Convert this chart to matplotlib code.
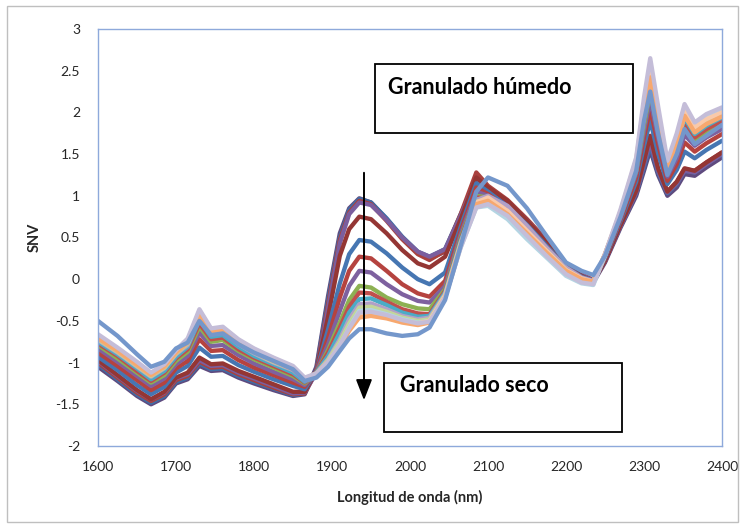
import matplotlib
matplotlib.use("Agg")
import matplotlib.pyplot as plt
from matplotlib.patches import Rectangle, FancyArrowPatch

plt.rcParams['font.family'] = ['Lato', 'DejaVu Sans']

wavelength = [1600, 1625, 1650, 1668, 1685, 1700, 1715, 1730, 1745, 1760, 1780, 1800, 1825, 1850, 1865,
              1880, 1895, 1910, 1922, 1935, 1950, 1970, 1990, 2010, 2025, 2045, 2065, 2085, 2100, 2125,
              2150, 2175, 2200, 2220, 2235, 2250, 2270, 2290, 2300, 2308, 2318, 2330, 2342, 2352, 2365,
              2380, 2400]

s01 = [-1.05,-1.22,-1.40,-1.50,-1.42,-1.25,-1.20,-1.04,-1.10,-1.09,-1.18,-1.25,-1.33,-1.40,-1.38,-1.05,-0.20,0.55,0.85,0.97,0.92,0.72,0.50,0.32,0.25,0.33,0.75,1.10,1.02,0.90,0.68,0.43,0.16,0.03,-0.04,0.20,0.62,1.00,1.30,1.55,1.25,1.00,1.10,1.26,1.24,1.34,1.46]
s02 = [-1.02,-1.20,-1.38,-1.48,-1.40,-1.23,-1.18,-1.01,-1.08,-1.07,-1.16,-1.23,-1.31,-1.39,-1.37,-1.08,-0.25,0.50,0.83,0.96,0.92,0.73,0.51,0.33,0.27,0.36,0.78,1.18,1.08,0.93,0.70,0.45,0.18,0.05,-0.02,0.22,0.64,1.03,1.34,1.60,1.28,1.03,1.14,1.30,1.28,1.38,1.50]
s03 = [-1.00,-1.18,-1.36,-1.46,-1.38,-1.21,-1.16,-0.99,-1.06,-1.05,-1.14,-1.21,-1.30,-1.38,-1.37,-1.10,-0.30,0.47,0.80,0.94,0.90,0.70,0.48,0.30,0.23,0.34,0.78,1.28,1.12,0.95,0.72,0.47,0.19,0.06,-0.01,0.22,0.65,1.05,1.40,1.68,1.32,1.05,1.16,1.32,1.30,1.40,1.52]
s04 = [-0.98,-1.16,-1.34,-1.44,-1.36,-1.19,-1.14,-0.97,-1.04,-1.03,-1.12,-1.19,-1.28,-1.37,-1.36,-1.12,-0.35,0.43,0.78,0.92,0.89,0.71,0.50,0.33,0.27,0.36,0.76,1.20,1.08,0.93,0.70,0.45,0.18,0.05,-0.02,0.22,0.64,1.04,1.38,1.65,1.30,1.04,1.15,1.30,1.28,1.38,1.50]
s05 = [-0.97,-1.15,-1.33,-1.44,-1.35,-1.18,-1.12,-0.94,-1.02,-1.01,-1.10,-1.17,-1.26,-1.35,-1.35,-1.10,-0.45,0.28,0.60,0.75,0.72,0.55,0.35,0.19,0.14,0.27,0.72,1.22,1.10,0.94,0.70,0.45,0.17,0.04,-0.03,0.22,0.65,1.06,1.42,1.72,1.33,1.05,1.17,1.33,1.30,1.40,1.52]
s06 = [-0.93,-1.09,-1.27,-1.38,-1.29,-1.12,-1.04,-0.82,-0.93,-0.92,-1.03,-1.11,-1.20,-1.28,-1.32,-1.10,-0.60,-0.05,0.30,0.47,0.45,0.31,0.14,0.00,-0.06,0.08,0.63,1.15,1.05,0.87,0.65,0.40,0.15,0.03,-0.02,0.25,0.70,1.17,1.60,1.90,1.51,1.14,1.31,1.53,1.45,1.55,1.66]
s07 = [-0.88,-1.04,-1.21,-1.33,-1.24,-1.07,-0.98,-0.72,-0.86,-0.85,-0.97,-1.06,-1.15,-1.24,-1.29,-1.10,-0.70,-0.22,0.10,0.27,0.25,0.10,-0.06,-0.17,-0.21,-0.02,0.58,1.10,1.02,0.85,0.62,0.38,0.14,0.02,-0.03,0.26,0.72,1.22,1.70,2.04,1.62,1.18,1.38,1.64,1.53,1.63,1.74]
s08 = [-0.83,-0.99,-1.16,-1.28,-1.19,-1.02,-0.92,-0.64,-0.80,-0.79,-0.91,-1.01,-1.11,-1.20,-1.27,-1.11,-0.78,-0.38,-0.08,0.10,0.08,-0.06,-0.18,-0.26,-0.28,-0.08,0.54,1.05,1.00,0.83,0.60,0.36,0.13,0.01,-0.03,0.27,0.74,1.27,1.78,2.15,1.70,1.23,1.45,1.73,1.60,1.70,1.80]
s09 = [-0.79,-0.95,-1.12,-1.24,-1.15,-0.98,-0.87,-0.57,-0.75,-0.73,-0.86,-0.96,-1.06,-1.16,-1.25,-1.12,-0.85,-0.52,-0.25,-0.08,-0.10,-0.22,-0.30,-0.35,-0.36,-0.12,0.50,1.00,0.98,0.81,0.58,0.35,0.12,0.01,-0.03,0.28,0.76,1.30,1.85,2.25,1.77,1.27,1.52,1.83,1.66,1.76,1.86]
s10 = [-0.77,-0.92,-1.10,-1.22,-1.12,-0.95,-0.84,-0.53,-0.72,-0.70,-0.84,-0.94,-1.04,-1.14,-1.24,-1.12,-0.88,-0.58,-0.33,-0.16,-0.17,-0.27,-0.36,-0.41,-0.42,-0.14,0.48,0.98,0.97,0.80,0.57,0.34,0.11,0.00,-0.03,0.29,0.77,1.33,1.90,2.30,1.82,1.29,1.56,1.88,1.70,1.80,1.90]
s11 = [-0.75,-0.90,-1.07,-1.20,-1.10,-0.93,-0.81,-0.49,-0.69,-0.67,-0.81,-0.92,-1.02,-1.12,-1.23,-1.12,-0.92,-0.64,-0.40,-0.24,-0.23,-0.31,-0.40,-0.45,-0.44,-0.16,0.46,0.96,0.96,0.79,0.56,0.33,0.11,0.00,-0.03,0.29,0.78,1.35,1.95,2.35,1.86,1.31,1.59,1.93,1.74,1.84,1.94]
s12 = [-0.73,-0.88,-1.05,-1.17,-1.07,-0.90,-0.79,-0.45,-0.65,-0.63,-0.78,-0.89,-1.00,-1.09,-1.21,-1.13,-0.96,-0.72,-0.48,-0.30,-0.29,-0.36,-0.44,-0.48,-0.46,-0.18,0.44,0.95,1.00,0.88,0.64,0.38,0.14,0.02,-0.02,0.30,0.80,1.38,2.00,2.40,1.90,1.34,1.62,1.96,1.77,1.87,1.97]
s13 = [-0.72,-0.87,-1.04,-1.16,-1.06,-0.89,-0.77,-0.43,-0.64,-0.62,-0.77,-0.88,-0.99,-1.08,-1.20,-1.13,-0.97,-0.75,-0.53,-0.34,-0.33,-0.39,-0.46,-0.50,-0.48,-0.19,0.43,0.93,0.96,0.80,0.57,0.34,0.11,0.00,-0.03,0.30,0.80,1.39,2.02,2.45,1.92,1.34,1.63,1.98,1.78,1.88,1.98]
s14 = [-0.68,-0.83,-1.00,-1.13,-1.03,-0.86,-0.73,-0.38,-0.60,-0.58,-0.73,-0.84,-0.95,-1.05,-1.19,-1.14,-1.00,-0.80,-0.58,-0.38,-0.37,-0.42,-0.48,-0.52,-0.50,-0.22,0.38,0.86,0.88,0.72,0.48,0.26,0.04,-0.05,-0.07,0.28,0.80,1.42,2.10,2.58,2.00,1.38,1.70,2.06,1.85,1.95,2.04]
s15 = [-0.69,-0.84,-1.01,-1.14,-1.04,-0.87,-0.74,-0.39,-0.61,-0.59,-0.74,-0.85,-0.96,-1.06,-1.19,-1.13,-0.99,-0.80,-0.60,-0.42,-0.40,-0.44,-0.50,-0.53,-0.50,-0.20,0.41,0.92,0.98,0.82,0.58,0.34,0.11,0.01,-0.03,0.30,0.82,1.44,2.10,2.52,1.98,1.37,1.68,2.03,1.82,1.92,2.00]
s16 = [-0.71,-0.86,-1.03,-1.15,-1.05,-0.88,-0.76,-0.42,-0.63,-0.61,-0.76,-0.87,-0.98,-1.08,-1.20,-1.13,-0.99,-0.81,-0.62,-0.46,-0.44,-0.47,-0.52,-0.55,-0.52,-0.22,0.40,0.90,0.94,0.78,0.55,0.32,0.10,0.00,-0.03,0.30,0.80,1.40,2.02,2.42,1.92,1.33,1.62,1.96,1.76,1.86,1.95]
s17 = [-0.66,-0.82,-0.99,-1.12,-1.02,-0.85,-0.71,-0.36,-0.59,-0.57,-0.72,-0.83,-0.94,-1.04,-1.18,-1.13,-0.99,-0.79,-0.59,-0.40,-0.39,-0.43,-0.49,-0.53,-0.51,-0.22,0.38,0.86,0.90,0.76,0.52,0.28,0.06,-0.04,-0.06,0.30,0.84,1.46,2.18,2.65,2.08,1.42,1.75,2.10,1.88,1.98,2.06]
s18 = [-0.50,-0.68,-0.90,-1.05,-0.99,-0.83,-0.76,-0.50,-0.67,-0.65,-0.78,-0.88,-0.98,-1.08,-1.22,-1.18,-1.05,-0.86,-0.71,-0.60,-0.60,-0.65,-0.68,-0.66,-0.58,-0.25,0.40,1.05,1.22,1.12,0.85,0.52,0.20,0.10,0.05,0.28,0.75,1.30,1.90,2.25,1.75,1.25,1.50,1.80,1.62,1.72,1.85]

spectra = [s01, s02, s03, s04, s05, s06, s07, s08, s09, s10, s11, s12, s13, s14, s15, s16, s17, s18]
colors = ['#5F4A7E', '#3E6EA7', '#A9413E', '#7B5E9E', '#943634', '#4676B2', '#B5433F', '#7E619F',
          '#8DB153', '#C0504D', '#4BACC6', '#B1A0C7', '#C3D69B', '#B4D5E3', '#F9C9AA', '#F7A86F',
          '#C4BDD8', '#7497CB']

xticks = [1600, 1700, 1800, 1900, 2000, 2100, 2200, 2300, 2400]
yticks = [-2, -1.5, -1, -0.5, 0, 0.5, 1, 1.5, 2, 2.5, 3]
ytick_labels = ['-2', '-1.5', '-1', '-0.5', '0', '0.5', '1', '1.5', '2', '2.5', '3']

W, H = 745, 529
fig = plt.figure(figsize=(W / 100, H / 100), dpi=100)
ax = fig.add_axes([98 / W, 1 - 446 / H, (722 - 98) / W, (446 - 29) / H])

for s, c in zip(spectra, colors):
    ax.plot(wavelength, s, color=c, lw=3.1, solid_joinstyle='round', solid_capstyle='round')

ax.set_xlim(1600, 2400)
ax.set_ylim(-2, 3)
ax.set_xticks(xticks)
ax.set_xticklabels([str(t) for t in xticks])
ax.set_yticks(yticks)
ax.set_yticklabels(ytick_labels)
ax.tick_params(length=0, labelsize=10, colors='#262626')
ax.tick_params(axis='y', pad=13)
ax.tick_params(axis='x', pad=11)
for sp in ax.spines.values():
    sp.set_color('#8EA9DB')
    sp.set_linewidth(1.0)

ax.set_xlabel('Longitud de onda (nm)', fontsize=10.5, fontweight='bold', labelpad=12, color='#262626')
ax.set_ylabel('SNV', fontsize=10.5, fontweight='bold', labelpad=10, color='#262626')

def px(x, y):
    return x / W, 1 - y / H

# outer chart border
x0, y0 = px(7, 522)
x1, y1 = px(738, 6)
fig.add_artist(Rectangle((x0, y0), x1 - x0, y1 - y0, transform=fig.transFigure,
                         fill=False, edgecolor='#BFBFBF', lw=1.0))

# text boxes
for (bx0, by0, bx1, by1), label, tx, ty in [((375, 64, 633, 133), 'Granulado húmedo', 388, 88),
                                            ((384, 363, 622, 432), 'Granulado seco', 400, 385)]:
    a, b = px(bx0, by1)
    c, d = px(bx1, by0)
    fig.add_artist(Rectangle((a, b), c - a, d - b, transform=fig.transFigure,
                             facecolor='white', edgecolor='black', lw=1.3, zorder=5))
    tx_, ty_ = px(tx, ty)
    fig.text(tx_, ty_, label, fontsize=15.5, fontweight='bold', ha='left', va='center',
             color='black', zorder=6)

# arrow
ax0, ay0 = px(364, 170)
ax1, ay1 = px(364, 403)
fig.add_artist(FancyArrowPatch((ax0, ay0), (ax1, ay1), transform=fig.transFigure,
                               arrowstyle='-|>,head_length=0.9,head_width=0.35', mutation_scale=14,
                               color='black', lw=1.4, zorder=7))

fig.savefig('out.png', dpi=100)
